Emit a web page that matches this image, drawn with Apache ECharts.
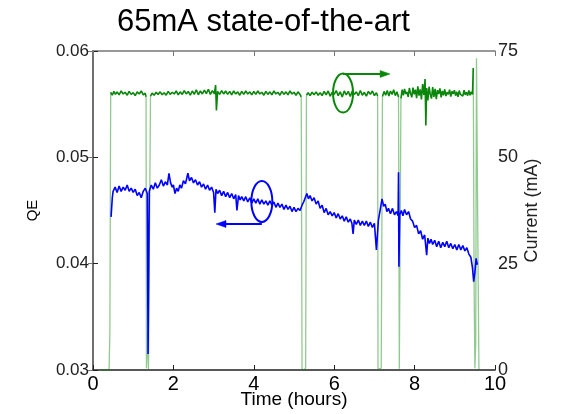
<!DOCTYPE html>
<html>
<head>
<meta charset="utf-8">
<script src="https://cdn.jsdelivr.net/npm/echarts@6/dist/echarts.min.js"></script>
<style>
html,body{margin:0;padding:0;background:#fff;}
#main{width:561px;height:414px;}
</style>
</head>
<body>
<div id="main"></div>
<script>
// ---- data (time in hours) ----
const chartTitle = '65mA state-of-the-art';
const xTicks = [0, 2, 4, 6, 8, 10];
const qeTicks = [0.03, 0.04, 0.05, 0.06];
const currentTicks = [0, 25, 50, 75];

// QE vs time [hours, QE]
const qePoints = [
[0.45,0.0444],[0.48,0.0462],[0.50,0.0468],[0.55,0.0472],[0.60,0.0467],[0.65,0.0473],[0.70,0.0468],[0.75,0.0472],
[0.80,0.0469],[0.85,0.0474],[0.90,0.0468],[0.95,0.0471],[1.00,0.0467],[1.05,0.0470],[1.10,0.0464],[1.15,0.0467],
[1.20,0.0462],[1.25,0.0468],[1.30,0.0471],[1.35,0.0466],[1.37,0.0315],[1.40,0.0468],[1.45,0.0474],[1.50,0.0470],
[1.55,0.0476],[1.60,0.0471],[1.65,0.0474],[1.70,0.0479],[1.75,0.0473],[1.80,0.0477],[1.85,0.0474],[1.89,0.0485],
[1.93,0.0476],[1.97,0.0472],[2.00,0.0474],[2.04,0.0466],[2.08,0.0471],[2.12,0.0468],[2.16,0.0474],[2.20,0.0471],
[2.25,0.0478],[2.30,0.0475],[2.36,0.0485],[2.40,0.0478],[2.45,0.0481],[2.50,0.0476],[2.55,0.0479],[2.60,0.0474],
[2.65,0.0477],[2.70,0.0472],[2.75,0.0475],[2.80,0.0470],[2.85,0.0474],[2.90,0.0469],[2.95,0.0472],[3.00,0.0467],
[3.03,0.0448],[3.06,0.0470],[3.10,0.0466],[3.15,0.0469],[3.20,0.0464],[3.25,0.0468],[3.30,0.0463],[3.35,0.0467],
[3.40,0.0462],[3.45,0.0466],[3.50,0.0461],[3.55,0.0465],[3.58,0.0450],[3.62,0.0464],[3.66,0.0460],[3.70,0.0463],
[3.75,0.0459],[3.80,0.0463],[3.85,0.0458],[3.90,0.0462],[3.95,0.0457],[4.00,0.0461],[4.05,0.0457],[4.10,0.0461],
[4.15,0.0456],[4.20,0.0460],[4.25,0.0456],[4.30,0.0459],[4.35,0.0455],[4.40,0.0459],[4.45,0.0455],[4.50,0.0458],
[4.55,0.0453],[4.60,0.0457],[4.65,0.0453],[4.70,0.0456],[4.75,0.0451],[4.80,0.0455],[4.85,0.0451],[4.90,0.0454],
[4.95,0.0449],[5.00,0.0453],[5.05,0.0449],[5.10,0.0452],[5.15,0.0450],[5.20,0.0455],[5.24,0.0458],[5.28,0.0462],
[5.32,0.0466],[5.36,0.0461],[5.40,0.0464],[5.45,0.0459],[5.50,0.0462],[5.55,0.0456],[5.60,0.0459],[5.65,0.0452],
[5.70,0.0455],[5.75,0.0448],[5.80,0.0452],[5.85,0.0446],[5.90,0.0449],[5.95,0.0445],[6.00,0.0448],[6.05,0.0443],
[6.10,0.0447],[6.15,0.0442],[6.20,0.0445],[6.25,0.0440],[6.30,0.0444],[6.35,0.0439],[6.40,0.0442],[6.44,0.0438],
[6.47,0.0428],[6.50,0.0441],[6.55,0.0437],[6.60,0.0441],[6.65,0.0436],[6.70,0.0440],[6.75,0.0436],[6.80,0.0440],
[6.85,0.0435],[6.90,0.0439],[6.95,0.0434],[7.00,0.0438],[7.05,0.0413],[7.10,0.0441],[7.15,0.0452],[7.19,0.0461],
[7.23,0.0454],[7.27,0.0456],[7.31,0.0449],[7.35,0.0452],[7.40,0.0447],[7.45,0.0452],[7.50,0.0446],[7.55,0.0449],
[7.59,0.0445],[7.60,0.0486],[7.61,0.0397],[7.63,0.0446],[7.67,0.0450],[7.71,0.0445],[7.75,0.0451],[7.80,0.0446],
[7.85,0.0449],[7.90,0.0442],[7.95,0.0440],[8.00,0.0434],[8.05,0.0436],[8.10,0.0428],[8.15,0.0431],[8.20,0.0423],
[8.25,0.0427],[8.30,0.0408],[8.33,0.0424],[8.37,0.0419],[8.41,0.0423],[8.45,0.0418],[8.50,0.0422],[8.55,0.0416],
[8.60,0.0421],[8.65,0.0415],[8.70,0.0420],[8.75,0.0416],[8.80,0.0421],[8.85,0.0415],[8.90,0.0419],[8.95,0.0414],
[9.00,0.0418],[9.05,0.0413],[9.10,0.0418],[9.15,0.0413],[9.20,0.0417],[9.25,0.0412],[9.30,0.0415],[9.35,0.0409],
[9.40,0.0406],[9.44,0.0396],[9.47,0.0383],[9.50,0.0392],[9.53,0.0405],[9.56,0.0399]
];

// Beam current vs time [hours, mA]
const currentPoints = [
[0.19,0],[0.40,0],[0.42,9],[0.44,65.3],[0.48,64.6],[0.52,65.5],[0.56,64.8],[0.60,65.4],[0.65,64.7],[0.70,65.6],
[0.75,64.9],[0.80,65.3],[0.85,64.6],[0.90,65.5],[0.95,64.8],[1.00,65.2],[1.05,64.5],[1.10,65.4],[1.15,64.9],[1.20,65.6],
[1.25,64.7],[1.30,65.1],[1.32,64.2],[1.33,0.4],[1.36,9],[1.38,0.2],[1.41,0],[1.43,64.4],[1.47,65.1],[1.52,64.6],
[1.57,65.3],[1.62,64.8],[1.67,65.4],[1.72,64.7],[1.77,65.2],[1.82,64.6],[1.87,65.5],[1.92,64.8],[1.97,65.3],[2.02,64.9],
[2.07,65.6],[2.12,64.7],[2.17,65.4],[2.22,64.8],[2.27,65.7],[2.32,64.9],[2.37,65.5],[2.42,64.6],[2.47,65.6],[2.52,64.8],
[2.57,65.9],[2.62,64.7],[2.67,65.6],[2.72,64.9],[2.77,65.8],[2.82,65.0],[2.87,66.0],[2.92,64.8],[2.97,65.7],[3.02,64.9],
[3.05,67.0],[3.07,61.0],[3.10,65.5],[3.15,64.8],[3.20,65.7],[3.25,64.9],[3.30,65.6],[3.35,64.8],[3.40,65.5],[3.45,64.7],
[3.50,65.6],[3.55,64.9],[3.60,65.4],[3.65,64.6],[3.70,65.5],[3.75,64.8],[3.80,65.6],[3.85,64.9],[3.90,65.4],[3.95,64.7],
[4.00,65.5],[4.05,64.8],[4.10,65.6],[4.15,64.9],[4.20,65.3],[4.25,64.6],[4.30,65.5],[4.35,64.8],[4.40,65.4],[4.45,64.7],
[4.50,65.6],[4.55,64.9],[4.60,65.3],[4.65,64.6],[4.70,65.5],[4.75,64.8],[4.80,65.4],[4.85,64.7],[4.90,65.6],[4.95,64.9],
[5.00,65.3],[5.05,64.6],[5.10,65.4],[5.15,64.8],[5.18,64.2],[5.20,0.3],[5.25,0],[5.29,0.5],[5.31,64.6],[5.35,65.2],
[5.40,64.5],[5.45,65.3],[5.50,64.7],[5.55,65.4],[5.60,64.6],[5.65,65.2],[5.70,64.5],[5.75,65.5],[5.80,64.7],[5.85,65.6],
[5.90,64.4],[5.95,65.3],[6.00,64.8],[6.05,65.7],[6.10,64.5],[6.15,65.4],[6.20,64.2],[6.25,65.6],[6.30,64.7],[6.35,65.5],
[6.40,64.3],[6.45,65.6],[6.50,64.8],[6.55,65.4],[6.60,64.5],[6.65,65.7],[6.70,64.6],[6.75,65.3],[6.80,64.4],[6.85,65.5],
[6.90,64.8],[6.95,65.6],[7.00,64.5],[7.05,65.2],[7.08,64.4],[7.09,0.3],[7.13,0],[7.17,0.4],[7.20,64.3],[7.24,65.5],
[7.28,64.6],[7.32,65.7],[7.36,64.4],[7.40,65.6],[7.44,64.8],[7.48,65.9],[7.52,64.5],[7.56,65.4],[7.60,64.2],[7.62,0.3],
[7.64,0.2],[7.66,63.8],[7.69,65.9],[7.72,64.6],[7.75,66.1],[7.78,64.9],[7.81,65.4],[7.84,64.2],[7.87,66.3],[7.90,65.0],
[7.93,64.1],[7.96,66.4],[7.99,64.8],[8.02,65.9],[8.05,63.9],[8.08,66.7],[8.11,64.5],[8.14,66.0],[8.17,63.6],[8.20,67.2],
[8.23,64.7],[8.26,68.4],[8.28,57.5],[8.30,66.3],[8.33,63.4],[8.36,66.6],[8.39,64.8],[8.42,63.8],[8.45,66.5],[8.48,64.2],
[8.51,66.1],[8.54,63.7],[8.57,65.8],[8.60,64.9],[8.63,66.2],[8.66,64.1],[8.69,65.6],[8.72,64.6],[8.75,66.0],[8.78,64.4],
[8.81,65.3],[8.84,64.8],[8.87,65.9],[8.90,64.3],[8.93,65.5],[8.96,64.9],[8.99,65.8],[9.02,64.5],[9.05,65.4],[9.08,64.2],
[9.11,65.7],[9.14,64.8],[9.17,65.2],[9.20,64.4],[9.23,65.8],[9.26,64.7],[9.29,65.3],[9.32,64.5],[9.35,65.7],[9.38,64.6],
[9.41,65.4],[9.44,64.8],[9.46,71.0],[9.48,20],[9.50,0.4],[9.52,6],[9.54,73.3],[9.57,35],[9.60,0]
];

// annotation anchors in data coordinates
const qeMarkerCenter = [4.2, 0.04585];
const qeArrow = [[4.2, 0.04373], [3.06, 0.04373]];
const currentMarkerCenter = [6.22, 65.1];
const currentArrow = [[6.22, 69.6], [7.39, 69.6]];

const FONT = 'Liberation Sans, Arial, sans-serif';
const GREEN = '#0a870a';
const GREEN_LIGHT = 'rgba(10,135,10,0.45)';
const BLUE = '#0000ff';
const NORMAL_MIN = 50; // current above this counts as the normal beam plateau

// split the current trace into plateau segments and dropout segments
const plateauData = [];
const dropoutData = [];
for (let i = 0; i < currentPoints.length - 1; i++) {
  const a = currentPoints[i], b = currentPoints[i + 1];
  const isDrop = a[1] < NORMAL_MIN || b[1] < NORMAL_MIN;
  const target = isDrop ? dropoutData : plateauData;
  const other = isDrop ? plateauData : dropoutData;
  const last = target[target.length - 1];
  if (!last || last === '-' || last[0] !== a[0]) {
    if (last && last !== '-') target.push('-');
    target.push(a);
  }
  target.push(b);
  if (other.length && other[other.length - 1] !== '-') other.push('-');
}

const chart = echarts.init(document.getElementById('main'), null, {renderer: 'canvas'});

const option = {
  animation: false,
  backgroundColor: '#ffffff',
  title: {
    text: chartTitle,
    left: 117, top: 7, padding: 0,
    textStyle: {fontFamily: FONT, fontSize: 31, fontWeight: 'normal', color: '#000'}
  },
  grid: {left: 93, right: 66, top: 51, bottom: 44, containLabel: false, outerBoundsMode: 'none'},
  xAxis: [{
    type: 'value', min: xTicks[0], max: xTicks[xTicks.length - 1], interval: 2,
    position: 'bottom',
    name: 'Time (hours)', nameLocation: 'middle', nameGap: 20, nameMoveOverlap: false,
    nameTextStyle: {fontFamily: FONT, fontSize: 19, color: '#000'},
    axisLine: {lineStyle: {color: '#222', width: 1.5}},
    axisTick: {inside: true, length: 5, lineStyle: {color: '#222', width: 1}},
    axisLabel: {fontFamily: FONT, fontSize: 20, color: '#000', margin: 4},
    splitLine: {show: false}
  }, {
    type: 'value', min: xTicks[0], max: xTicks[xTicks.length - 1], interval: 2,
    position: 'top',
    axisLine: {lineStyle: {color: '#777', width: 1.5}},
    axisTick: {inside: true, length: 5, lineStyle: {color: '#777', width: 1}},
    axisLabel: {show: false},
    splitLine: {show: false}
  }],
  yAxis: [{
    type: 'value', min: qeTicks[0], max: qeTicks[qeTicks.length - 1], interval: 0.01,
    position: 'left',
    name: 'QE', nameLocation: 'middle', nameGap: 53, nameMoveOverlap: false,
    nameTextStyle: {fontFamily: FONT, fontSize: 15, color: '#000'},
    axisLine: {lineStyle: {color: '#222', width: 1.5}},
    axisTick: {inside: true, length: 5, lineStyle: {color: '#222', width: 1}},
    axisLabel: {fontFamily: FONT, fontSize: 17, color: '#222', margin: 4, padding: [5, 0, 0, 0],
      formatter: v => v.toFixed(2)},
    splitLine: {show: false}
  }, {
    type: 'value', min: currentTicks[0], max: currentTicks[currentTicks.length - 1], interval: 25,
    position: 'right',
    name: 'Current (mA)', nameLocation: 'middle', nameGap: 28, nameMoveOverlap: false,
    nameTextStyle: {fontFamily: FONT, fontSize: 18, color: '#222'},
    axisLine: {lineStyle: {color: '#777', width: 1.5}},
    axisTick: {inside: true, length: 5, lineStyle: {color: '#777', width: 1}},
    axisLabel: {fontFamily: FONT, fontSize: 18, color: '#222', margin: 3, padding: [5, 0, 0, 0]},
    splitLine: {show: false}
  }],
  series: [{
    name: 'Current dropouts', type: 'line', xAxisIndex: 0, yAxisIndex: 1,
    data: dropoutData, showSymbol: false, symbol: 'none', connectNulls: false,
    lineStyle: {color: GREEN_LIGHT, width: 1.3}, z: 2
  }, {
    name: 'Current', type: 'line', xAxisIndex: 0, yAxisIndex: 1,
    data: plateauData, showSymbol: false, symbol: 'none', connectNulls: false,
    lineStyle: {color: GREEN, width: 1.6}, z: 3
  }, {
    name: 'QE', type: 'line', xAxisIndex: 0, yAxisIndex: 0,
    data: qePoints, showSymbol: false, symbol: 'none',
    lineStyle: {color: BLUE, width: 1.6}, z: 4
  }]
};
chart.setOption(option);

function arrowGraphics(p0, p1, color) {
  const dx = p1[0] - p0[0], dy = p1[1] - p0[1];
  const len = Math.sqrt(dx * dx + dy * dy);
  const ux = dx / len, uy = dy / len;
  const hl = 10, hw = 3.5;
  const bx = p1[0] - ux * hl, by = p1[1] - uy * hl;
  return [{
    type: 'line', z: 10,
    shape: {x1: p0[0], y1: p0[1], x2: bx, y2: by},
    style: {stroke: color, lineWidth: 2}
  }, {
    type: 'polygon', z: 10,
    shape: {points: [[p1[0], p1[1]], [bx - uy * hw, by + ux * hw], [bx + uy * hw, by - ux * hw]]},
    style: {fill: color, stroke: color, lineWidth: 0.5}
  }];
}

const qeC = chart.convertToPixel({seriesIndex: 2}, qeMarkerCenter);
const qeA0 = chart.convertToPixel({seriesIndex: 2}, qeArrow[0]);
const qeA1 = chart.convertToPixel({seriesIndex: 2}, qeArrow[1]);
const cuC = chart.convertToPixel({seriesIndex: 1}, currentMarkerCenter);
const cuA0 = chart.convertToPixel({seriesIndex: 1}, currentArrow[0]);
const cuA1 = chart.convertToPixel({seriesIndex: 1}, currentArrow[1]);

chart.setOption({
  graphic: [
    {type: 'ellipse', z: 10, shape: {cx: qeC[0], cy: qeC[1], rx: 10.5, ry: 20.5},
      style: {fill: 'none', stroke: BLUE, lineWidth: 2}},
    ...arrowGraphics(qeA0, qeA1, BLUE),
    {type: 'ellipse', z: 10, shape: {cx: cuC[0], cy: cuC[1], rx: 10, ry: 19.5},
      style: {fill: 'none', stroke: GREEN, lineWidth: 2}},
    ...arrowGraphics(cuA0, cuA1, GREEN)
  ]
});
</script>
</body>
</html>
